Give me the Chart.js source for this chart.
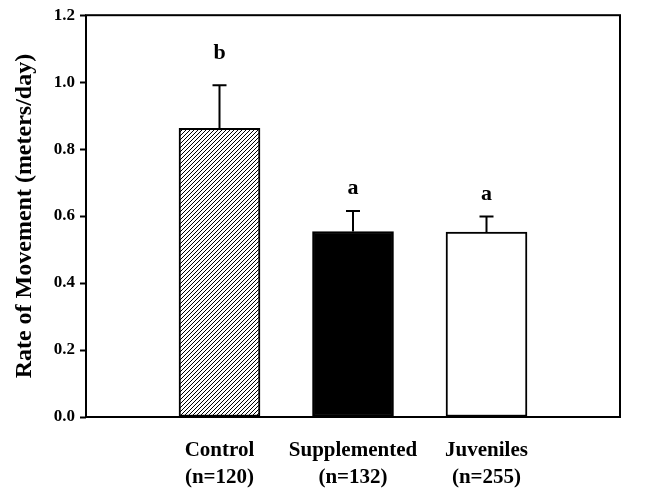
<!DOCTYPE html>
<html>
<head>
<meta charset="utf-8">
<script src="https://cdn.jsdelivr.net/npm/chart.js@4"></script>
<style>
  body { margin: 0; background: #fff; }
  #wrap { width: 667px; height: 491px; }
</style>
</head>
<body>
<div id="wrap"><canvas id="movement-chart"></canvas></div>
<script>
const groups = ['Control', 'Supplemented', 'Juveniles'];
const sampleSizes = ['(n=120)', '(n=132)', '(n=255)'];
const groupPositions = [1, 2, 3];
const meanRates = [0.862, 0.554, 0.552];
const errorBars = [0.129, 0.061, 0.047];
const sigLetters = ['b', 'a', 'a'];
const letterLevels = [1.068, 0.667, 0.648];
const yTicks = [0, 0.2, 0.4, 0.6, 0.8, 1.0, 1.2];

const serif = '"Liberation Serif", "Times New Roman", serif';

function hatchPattern() {
    const c = document.createElement('canvas');
    c.width = 4;
    c.height = 4;
    const g = c.getContext('2d');
    g.fillStyle = '#fff';
    g.fillRect(0, 0, 4, 4);
    g.strokeStyle = '#000';
    g.lineWidth = 1;
    g.beginPath();
    g.moveTo(0, 4); g.lineTo(4, 0);
    g.moveTo(-1, 1); g.lineTo(1, -1);
    g.moveTo(3, 5); g.lineTo(5, 3);
    g.stroke();
    return document.createElement('canvas').getContext('2d').createPattern(c, 'repeat');
}

// box around the plot, then error bars and letters on top
const framePlugin = {
    id: 'frame',
    afterDatasetsDraw(chart) {
        const { ctx, chartArea: a } = chart;
        const x = chart.scales.x, y = chart.scales.y;
        ctx.save();
        ctx.strokeStyle = '#000';
        ctx.lineWidth = 2;
        ctx.strokeRect(a.left, a.top, a.right - a.left, a.bottom - a.top);

        ctx.fillStyle = '#000';
        ctx.font = 'bold 22px ' + serif;
        ctx.textAlign = 'center';
        ctx.textBaseline = 'alphabetic';
        meanRates.forEach((m, i) => {
            const px = x.getPixelForValue(groupPositions[i]);
            const base = y.getPixelForValue(m);
            const top = y.getPixelForValue(m + errorBars[i]);
            ctx.beginPath();
            ctx.moveTo(px, base);
            ctx.lineTo(px, top);
            ctx.moveTo(px - 7, top);
            ctx.lineTo(px + 7, top);
            ctx.stroke();
            ctx.fillText(sigLetters[i], px, y.getPixelForValue(letterLevels[i]));
        });
        ctx.restore();
    }
};

const ctx = document.getElementById('movement-chart').getContext('2d');
new Chart(ctx, {
    type: 'bar',
    data: {
        datasets: [{
            data: groupPositions.map((g, i) => ({ x: g, y: meanRates[i] })),
            backgroundColor: [hatchPattern(), '#000', '#fff'],
            borderColor: '#000',
            borderWidth: 2,
            borderSkipped: false,
            barThickness: 81
        }]
    },
    options: {
        responsive: true,
        maintainAspectRatio: false,
        animation: false,
        layout: { padding: { left: 0, right: 47, top: 13, bottom: 0 } },
        plugins: {
            legend: { display: false },
            tooltip: { enabled: false }
        },
        scales: {
            x: {
                type: 'linear',
                min: 0,
                max: 4,
                offset: false,
                afterFit(scale) { scale.height = 74; },
                afterBuildTicks(scale) { scale.ticks = groupPositions.map(v => ({ value: v })); },
                grid: { display: false, offset: false },
                border: { display: false },
                ticks: {
                    color: '#000',
                    autoSkip: false,
                    maxRotation: 0,
                    padding: 12,
                    font: { family: serif, size: 21, weight: 'bold', lineHeight: 1.3 },
                    callback: v => {
                        const i = groupPositions.indexOf(v);
                        return [groups[i], sampleSizes[i]];
                    }
                }
            },
            y: {
                min: 0,
                max: 1.2,
                afterFit(scale) { scale.width = 86; },
                afterBuildTicks(scale) { scale.ticks = yTicks.map(v => ({ value: v })); },
                grid: { drawOnChartArea: false, tickLength: 6, tickWidth: 2, tickColor: '#000' },
                border: { display: false },
                ticks: {
                    color: '#000',
                    padding: 5,
                    font: { family: serif, size: 17, weight: 'bold' },
                    callback: v => v.toFixed(1)
                },
                title: {
                    display: true,
                    text: 'Rate of Movement (meters/day)',
                    color: '#000',
                    font: { family: serif, size: 24, weight: 'bold' },
                    padding: { top: 10, bottom: 0 }
                }
            }
        }
    },
    plugins: [framePlugin]
});
</script>
</body>
</html>
